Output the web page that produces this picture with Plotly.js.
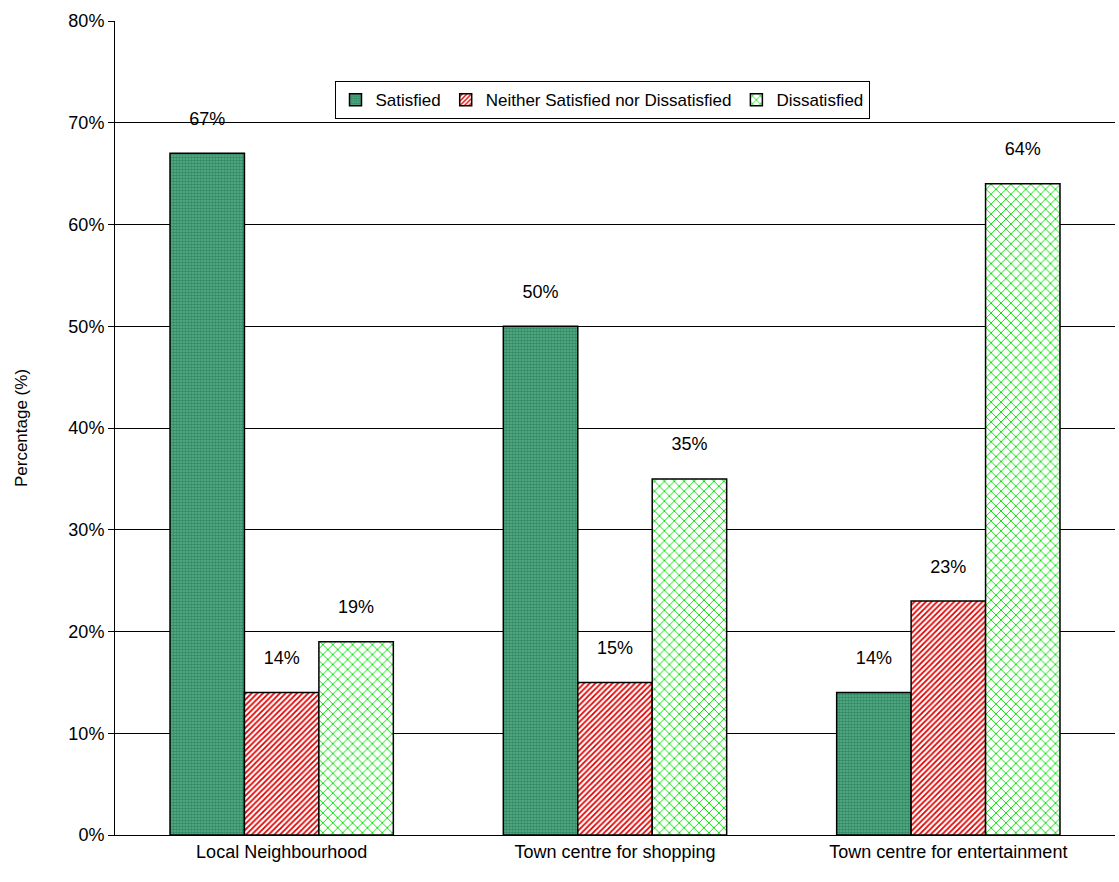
<!DOCTYPE html>
<html>
<head>
<meta charset="utf-8">
<script src="https://cdn.plot.ly/plotly-3.0.1.min.js"></script>
<style>html,body{margin:0;padding:0;background:#fff}</style>
</head>
<body>
<div id="chart" style="width:1119px;height:882px"></div>
<script>
// Satisfaction with areas, three response groups per area
const categories = ['Local Neighbourhood', 'Town centre for shopping', 'Town centre for entertainment'];
const satisfied = [67, 50, 14];
const neither = [14, 15, 23];
const dissatisfied = [19, 35, 64];

function barTrace(name, values, pattern) {
  return {
    type: 'bar',
    name: name,
    x: categories,
    y: values,
    texttemplate: '%{y}<br><span style="font-size:8px"> </span>',
    textposition: 'outside',
    cliponaxis: false,
    textfont: { size: 18, color: '#000' },
    marker: { color: '#fff', line: { color: '#000', width: 1.5 }, pattern: pattern }
  };
}

const data = [
  barTrace('Satisfied', satisfied, { shape: '.', fgcolor: '#2e8b63', bgcolor: '#5fae8a', size: 3, solidity: 0.6 }),
  barTrace('Neither Satisfied nor Dissatisfied', neither, { shape: '/', fgcolor: '#e00000', bgcolor: '#fff', size: 4, solidity: 0.45 }),
  barTrace('Dissatisfied', dissatisfied, { shape: 'x', fgcolor: '#00e000', bgcolor: '#fff', size: 7, solidity: 0.25 })
];

const layout = {
  width: 1119, height: 882,
  margin: { l: 115, r: 4, t: 21, b: 47 },
  paper_bgcolor: '#fff', plot_bgcolor: '#fff',
  font: { family: 'Liberation Sans, Arial, sans-serif', size: 18, color: '#000' },
  barmode: 'group', bargap: 0.33, bargroupgap: 0,
  showlegend: true,
  legend: {
    orientation: 'h', x: 0.487, xanchor: 'center', y: 0.926, yanchor: 'top',
    bordercolor: '#000', borderwidth: 1, bgcolor: '#fff',
    font: { size: 17 }, tracegroupgap: 0, itemwidth: 20
  },
  xaxis: {
    showline: true, linecolor: '#000', ticks: 'outside', tickcolor: '#000',
    ticklen: 0, tickfont: { size: 18 }, showgrid: false
  },
  yaxis: {
    range: [0, 80], dtick: 10, ticksuffix: '%',
    showline: true, linecolor: '#000', ticks: 'outside', tickcolor: '#000', ticklen: 6,
    showgrid: true, gridcolor: '#000', gridwidth: 1, zeroline: false,
    tickfont: { size: 18 },
    title: { text: 'Percentage (%)', font: { size: 17 }, standoff: 36 }
  }
};

Plotly.newPlot('chart', data, layout, { displayModeBar: false, staticPlot: true });
</script>
</body>
</html>
